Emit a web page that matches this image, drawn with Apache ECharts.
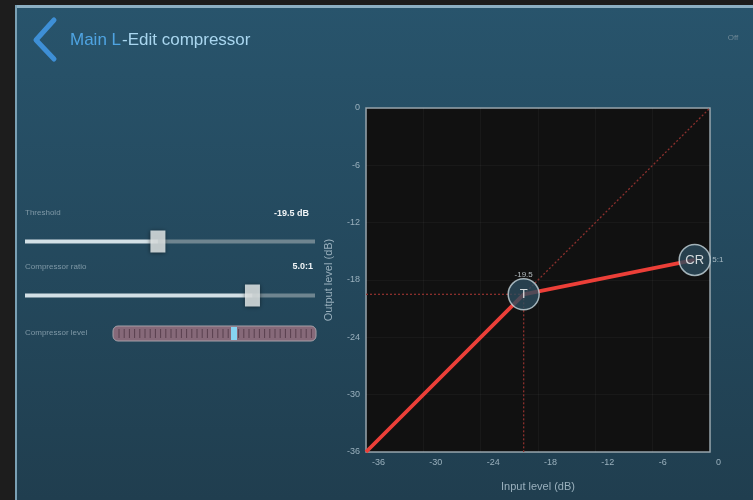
<!DOCTYPE html>
<html><head><meta charset="utf-8">
<script src="https://cdn.jsdelivr.net/npm/echarts@6/dist/echarts.min.js"></script>
<style>html,body{margin:0;padding:0;background:#1d1d1d;}#c{width:753px;height:500px;}</style>
</head><body><div id="c"></div>
<script>
// ---- data ----
const axisTicks = [-36, -30, -24, -18, -12, -6, 0];
const curveInput = [-36, -19.5, -1.6];
const curveOutput = [-36, -19.5, -15.9];
const thresholdDb = -19.5;
const ratioValue = 5.0;
const thresholdLabel = '-19.5';
const ratioLabel = '5:1';
const thresholdText = '-19.5 dB';
const ratioText = '5.0:1';
const thresholdRange = [-36, 0];
const ratioRange = [1, 6.1];

const FONT = '"Liberation Sans", Arial, sans-serif';
const curve = curveInput.map((x, i) => [x, curveOutput[i]]);
const T = curve[1], CR = curve[2];

const dotted = { type: 'line', symbol: 'none', silent: true, z: 2,
  lineStyle: { color: '#8c302d', width: 1.3, type: [2, 2] } };

const labelColor = '#9ab0bd';

// meter segments (decoration)
const meter = [];
const mx0 = 113, mx1 = 316, my = 326, mh = 15;
meter.push({ type: 'rect', shape: { x: mx0, y: my, width: mx1 - mx0, height: mh, r: 5 },
  style: { fill: '#866979', stroke: '#a5a0a8', lineWidth: 1 } });
for (let x = mx0 + 6; x < mx1 - 4; x += 5.2) {
  meter.push({ type: 'line', shape: { x1: x, y1: my + 3, x2: x, y2: my + mh - 3 },
    style: { stroke: 'rgba(70,45,60,0.7)', lineWidth: 1 } });
}
meter.push({ type: 'rect', shape: { x: 231, y: my + 1, width: 6, height: mh - 2 },
  style: { fill: '#86d4f2' } });

const chart = echarts.init(document.getElementById('c'));
chart.setOption({
  backgroundColor: '#1d1d1d',
  animation: false,
  textStyle: { fontFamily: FONT },
  graphic: [
    { type: 'rect', z: -10, shape: { x: 15, y: 5, width: 738, height: 495 },
      style: { fill: { type: 'linear', x: 0, y: 0, x2: 0, y2: 1,
        colorStops: [{ offset: 0, color: '#28546c' }, { offset: 1, color: '#203e4f' }] } } },
    { type: 'rect', z: -9, shape: { x: 15, y: 5, width: 738, height: 3 }, style: { fill: '#8cb0c4' } },
    { type: 'rect', z: -9, shape: { x: 15, y: 5, width: 2, height: 495 }, style: { fill: '#7aa0b4' } },
    { type: 'polyline', shape: { points: [[54, 20], [36, 40], [54, 59]] },
      style: { stroke: '#3e8fd6', lineWidth: 5, fill: null, lineCap: 'round', lineJoin: 'round' } },
    { type: 'text', x: 70, y: 40, style: { text: 'Main L', fill: '#4fa4e2', font: '17px ' + FONT, textVerticalAlign: 'middle' } },
    { type: 'text', x: 122, y: 40, style: { text: '-Edit compressor', fill: '#a9d6ef', font: '17px ' + FONT, textVerticalAlign: 'middle' } },
    { type: 'text', x: 733, y: 38, style: { text: 'Off', fill: '#6f8896', font: '8px ' + FONT, textAlign: 'center', textVerticalAlign: 'middle' } },
    { type: 'text', x: 25, y: 213, style: { text: 'Threshold', fill: '#7f98a6', font: '8px ' + FONT, textVerticalAlign: 'middle' } },
    { type: 'text', x: 309, y: 214, style: { text: thresholdText, fill: '#f0f4f6', font: 'bold 9px ' + FONT, textAlign: 'right', textVerticalAlign: 'middle' } },
    { type: 'text', x: 25, y: 267, style: { text: 'Compressor ratio', fill: '#7f98a6', font: '8px ' + FONT, textVerticalAlign: 'middle' } },
    { type: 'text', x: 313, y: 267, style: { text: ratioText, fill: '#f0f4f6', font: 'bold 9px ' + FONT, textAlign: 'right', textVerticalAlign: 'middle' } },
    { type: 'text', x: 25, y: 333, style: { text: 'Compressor level', fill: '#7f98a6', font: '8px ' + FONT, textVerticalAlign: 'middle' } }
  ].concat(meter),
  grid: [
    { left: 366, top: 108, width: 344, height: 344, show: true, backgroundColor: '#111111',
      borderColor: '#95a2aa', borderWidth: 1.5, z: 0 },
    { left: 25, top: 239, width: 290, height: 5 },
    { left: 25, top: 293, width: 290, height: 5 }
  ],
  xAxis: [
    { gridIndex: 0, type: 'value', min: -36, max: 0, interval: 6,
      name: 'Input level (dB)', nameLocation: 'middle', nameGap: 29,
      nameTextStyle: { color: labelColor, fontSize: 11 },
      axisLine: { show: false }, axisTick: { show: false },
      axisLabel: { color: labelColor, fontSize: 9, align: 'left', padding: [0, 0, 0, 6], margin: 6 },
      splitLine: { show: true, lineStyle: { color: 'rgba(255,255,255,0.035)' } } },
    { gridIndex: 1, type: 'value', min: thresholdRange[0], max: thresholdRange[1], show: false },
    { gridIndex: 2, type: 'value', min: ratioRange[0], max: ratioRange[1], show: false }
  ],
  yAxis: [
    { gridIndex: 0, type: 'value', min: -36, max: 0, interval: 6,
      name: 'Output level (dB)', nameLocation: 'middle', nameGap: 32,
      nameTextStyle: { color: labelColor, fontSize: 11 },
      axisLine: { show: false }, axisTick: { show: false },
      axisLabel: { color: labelColor, fontSize: 9, padding: [0, 0, 18, 0], margin: 6 },
      splitLine: { show: true, lineStyle: { color: 'rgba(255,255,255,0.035)' } } },
    { gridIndex: 1, type: 'value', min: 0, max: 1, show: false },
    { gridIndex: 2, type: 'value', min: 0, max: 1, show: false }
  ],
  series: [
    Object.assign({}, dotted, { data: [[-36, T[1]], T] }),
    Object.assign({}, dotted, { data: [T, [T[0], -36]] }),
    Object.assign({}, dotted, { data: [T, [0, 0]] }),
    { type: 'line', data: curve, symbol: 'none', z: 3,
      lineStyle: { color: '#ec3f38', width: 3.8 } },
    { type: 'scatter', z: 5, symbolSize: 31,
      data: [{ value: T, name: 'T' }, { value: CR, name: 'CR' }],
      itemStyle: { color: '#2d4c5e', borderColor: '#c5d6dc', borderWidth: 1.5 },
      label: { show: true, position: 'inside', formatter: '{b}', color: '#ffffff', fontSize: 13 } },
    { type: 'scatter', z: 5, symbolSize: 1, itemStyle: { color: 'rgba(0,0,0,0)' },
      data: [{ value: T, name: thresholdLabel }],
      label: { show: true, position: 'top', distance: 15, formatter: '{b}', color: '#d8e2e6', fontSize: 8 } },
    { type: 'scatter', z: 5, symbolSize: 1, itemStyle: { color: 'rgba(0,0,0,0)' },
      data: [{ value: CR, name: ratioLabel }],
      label: { show: true, position: 'right', distance: 17, formatter: '{b}', color: '#c9d7dd', fontSize: 8 } },
    // threshold slider
    { type: 'line', xAxisIndex: 1, yAxisIndex: 1, symbol: 'none', data: [[thresholdDb, 0.5], [thresholdRange[1], 0.5]],
      lineStyle: { color: '#6f8590', width: 4 } },
    { type: 'line', xAxisIndex: 1, yAxisIndex: 1, symbol: 'none', data: [[thresholdRange[0], 0.5], [thresholdDb, 0.5]],
      lineStyle: { color: '#d3e0e6', width: 4 } },
    { type: 'scatter', xAxisIndex: 1, yAxisIndex: 1, symbol: 'rect', symbolSize: [15, 22], z: 5,
      data: [[thresholdDb, 0.5]], itemStyle: { color: '#eef2f3', shadowBlur: 4, shadowColor: 'rgba(0,0,0,0.6)' } },
    // ratio slider
    { type: 'line', xAxisIndex: 2, yAxisIndex: 2, symbol: 'none', data: [[ratioValue, 0.5], [ratioRange[1], 0.5]],
      lineStyle: { color: '#6f8590', width: 4 } },
    { type: 'line', xAxisIndex: 2, yAxisIndex: 2, symbol: 'none', data: [[ratioRange[0], 0.5], [ratioValue, 0.5]],
      lineStyle: { color: '#d3e0e6', width: 4 } },
    { type: 'scatter', xAxisIndex: 2, yAxisIndex: 2, symbol: 'rect', symbolSize: [15, 22], z: 5,
      data: [[ratioValue, 0.5]], itemStyle: { color: '#eef2f3', shadowBlur: 4, shadowColor: 'rgba(0,0,0,0.6)' } }
  ]
});
</script></body></html>
